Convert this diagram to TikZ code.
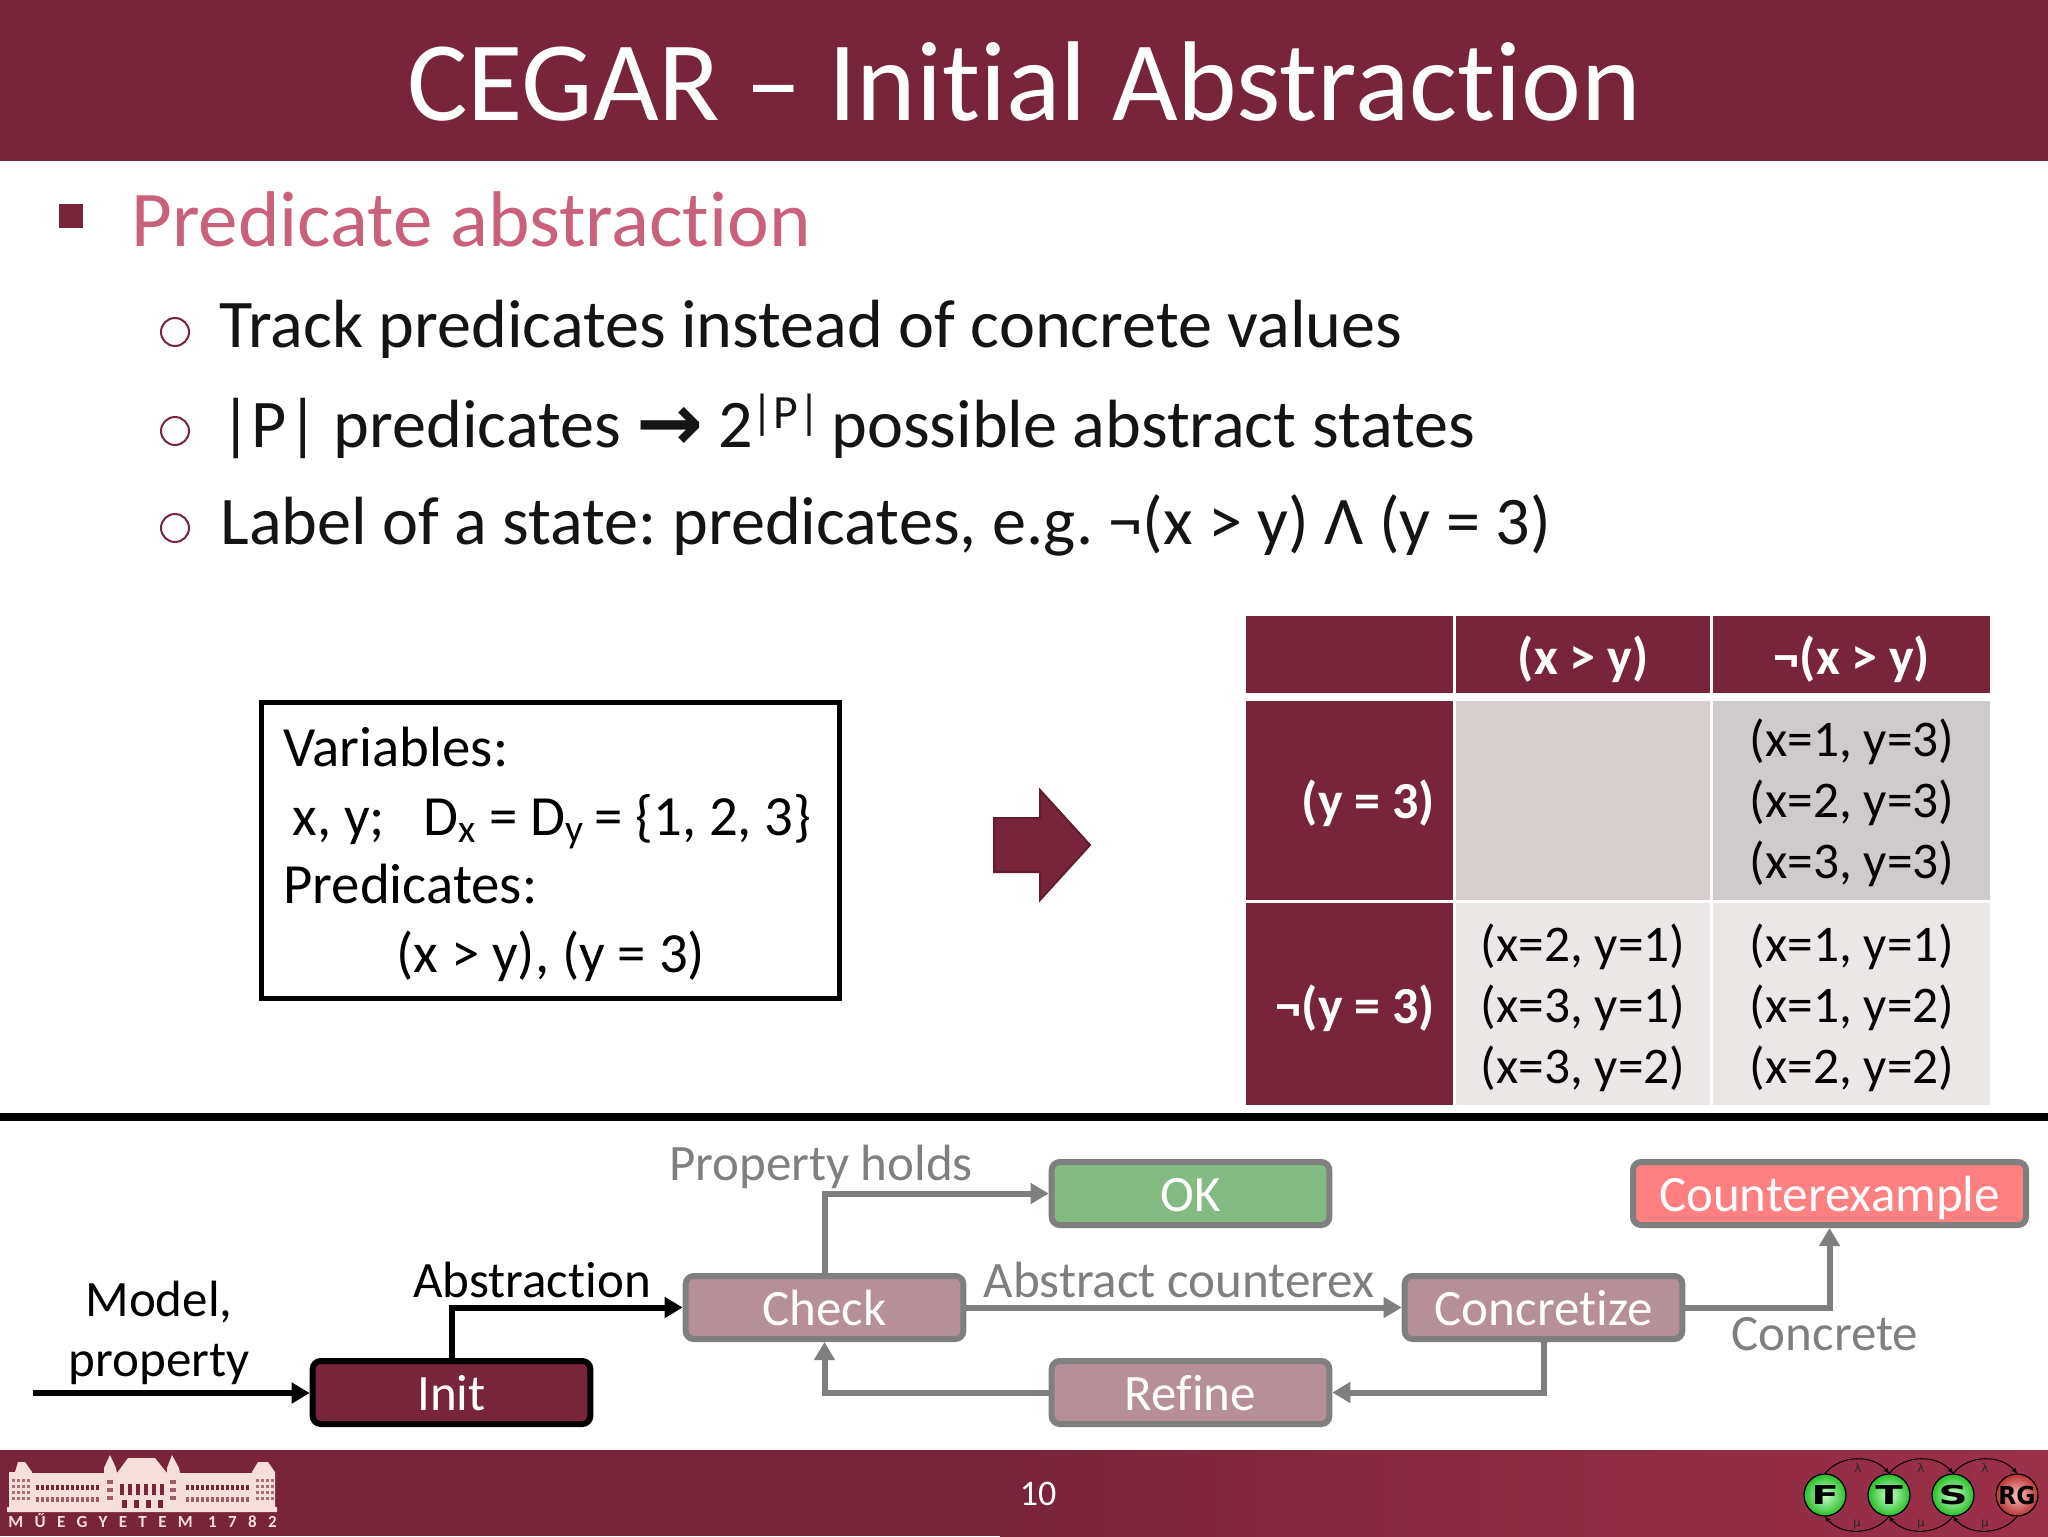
\documentclass[tikz,border=0pt]{standalone}
\usepackage{fontspec}
\setmainfont[Ligatures=CommonOff]{Carlito}
\newfontfamily\dejavu{DejaVu Sans}
\usetikzlibrary{arrows.meta,shapes.geometric}
\definecolor{wine}{HTML}{78243A}
\definecolor{winer}{HTML}{9B3049}
\definecolor{rosehead}{HTML}{C9607C}
\definecolor{flowgray}{HTML}{7F7F7F}
\definecolor{checkfill}{HTML}{B68F98}
\definecolor{okfill}{HTML}{82BC82}
\definecolor{cexfill}{HTML}{FF8080}
\definecolor{celldark}{HTML}{D6CFCE}
\definecolor{celldarkb}{HTML}{CFCACB}
\definecolor{celllight}{HTML}{EBE7E6}
\definecolor{pale}{HTML}{F6DEDA}
\newcommand{\fs}[1]{\fontsize{#1}{#1}\selectfont}
\frenchspacing
\tikzset{
  flowbox/.style={rectangle,rounded corners=4pt,line width=3pt,draw=flowgray,fill=checkfill,text=white,
    minimum width=138.8pt,minimum height=31.5pt,inner sep=0pt,font=\fs{25.5},text height=19pt,text depth=1pt},
  flowedge/.style={draw=flowgray,line width=3pt,-{Triangle[length=9pt,width=10pt]}},
  blackedge/.style={draw=black,line width=3pt,-{Triangle[length=9pt,width=10pt]}},
  flowlabel/.style={text=flowgray,font=\fs{25.5},inner sep=0pt},
  blacklabel/.style={text=black,font=\fs{25.5},inner sep=0pt},
  bullettext/.style={anchor=base west,inner sep=0pt,font=\fs{34.1},text=black!92},
  hollow/.style={circle,draw=wine,line width=1pt,minimum size=14pt,inner sep=0pt},
  vartext/.style={anchor=base west,inner sep=0pt,font=\fs{28.4}},
  celltext/.style={inner sep=0pt,align=center,font=\fontsize{25.7}{30.5}\selectfont},
  headtext/.style={inner sep=0pt,text=white,font=\fs{26}\bfseries},
  fts/.style={circle,draw=black,line width=0.6pt,minimum size=21pt,inner sep=0pt,inner color=green!20!white,outer color=green!70!black!85!white},
  ftsred/.style={circle,draw=black,line width=0.6pt,minimum size=21pt,inner sep=0pt,inner color=red!25!white,outer color=red!65!black!80!white},
  ftsletter/.style={inner sep=0pt,font=\dejavu\bfseries\fs{13},text=black},
  ftsarc/.style={draw=black,line width=0.5pt,-{Stealth[length=3pt,width=2.5pt]}},
  ftsmark/.style={inner sep=0pt,font=\dejavu\fs{6},text=black!85}
}
\begin{document}
\begin{tikzpicture}[x=0.5pt,y=-0.5pt]
\useasboundingbox (0,0) rectangle (2048,1536);
\fill[white] (0,0) rectangle (2048,1536);
% bars
\fill[wine] (0,0) rectangle (2048,161);
\fill[wine] (0,1450) rectangle (1000,1536);
\shade[left color=wine,right color=winer] (1000,1450) rectangle (2048,1536);
\node[inner sep=0pt,anchor=base,text=white,font=\fs{56.7}] (title) at (1024,120) {CEGAR – Initial Abstraction};
% bullets
\fill[wine] (59,204) rectangle (83,228);
\node[anchor=base west,inner sep=0pt,text=rosehead,font=\fs{39.5}] (head) at (131,246) {Predicate abstraction};
\node[hollow] (b1) at (175,332) {};
\node[hollow] (b2) at (175,431) {};
\node[hollow] (b3) at (175,528) {};
\node[bullettext] (t1) at (219,347) {Track predicates instead of concrete values};
\node[bullettext] (t2) at (220,447) {|P| predicates {\dejavu\bfseries\fontsize{40}{40}\selectfont\raisebox{-1.5pt}{→}} 2\hspace{-1pt}\textsuperscript{|P|}\hspace{-2.5pt} possible abstract states};
\node[bullettext] (t3) at (220,544) {Label of a state: predicates, e.g. ¬(x > y) Λ (y = 3)};
% variables box
\draw[line width=2.5pt,draw=black] (261,702) rectangle (839,998);
\node[vartext] (v1) at (283,766) {Variables:};
\node[vartext] (v2) at (292,835) {x, y;\hspace{0.45em} D\textsubscript{x} = D\textsubscript{y}\hspace{-1.5pt} = \{1, 2, 3\}};
\node[vartext] (v3) at (283,903) {Predicates:};
\node[vartext] (v4) at (396,972) {(x > y), (y = 3)};
% big arrow
\path[fill=wine,draw=wine!80!black,line width=1pt] (994,818) -- (1040,818) -- (1040,790) -- (1090,845) -- (1040,900) -- (1040,872) -- (994,872) -- cycle;
% table
\fill[wine] (1246,616) rectangle (1453,693);
\fill[wine] (1456,616) rectangle (1710,693);
\fill[wine] (1713,616) rectangle (1990,693);
\fill[wine] (1246,701) rectangle (1453,900);
\fill[wine] (1246,903) rectangle (1453,1105);
\fill[celldark] (1456,701) rectangle (1710,900);
\fill[celldarkb] (1713,701) rectangle (1990,900);
\fill[celllight] (1456,903) rectangle (1710,1105);
\fill[celllight] (1713,903) rectangle (1990,1105);
\node[headtext] (h1) at (1583,659.5) {(x > y)};
\node[headtext] (h2) at (1852,659.5) {¬(x > y)};
\node[headtext,anchor=east] (r1) at (1435,803) {(y = 3)};
\node[headtext,anchor=east] (r2) at (1435,1008) {¬(y = 3)};
\node[celltext] (c12) at (1852,803) {(x=1, y=3)\\(x=2, y=3)\\(x=3, y=3)};
\node[celltext] (c21) at (1583,1008) {(x=2, y=1)\\(x=3, y=1)\\(x=3, y=2)};
\node[celltext] (c22) at (1852,1008) {(x=1, y=1)\\(x=1, y=2)\\(x=2, y=2)};
% separator
\fill[black] (0,1113) rectangle (2048,1121);
% flow nodes
\node[flowbox,draw=black,fill=wine] (init) at (451.5,1392.5) {Init};
\node[flowbox] (check) at (824.5,1307.5) {Check};
\node[flowbox] (conc) at (1543.5,1307.5) {Concretize};
\node[flowbox] (refine) at (1190.5,1392.5) {Refine};
\node[flowbox,fill=okfill] (ok) at (1190.5,1193.5) {OK};
\node[flowbox,fill=cexfill,minimum width=196.5pt] (cex) at (1829.5,1193.5) {Counterexample};
\coordinate (entry) at (33,1393);
\draw[blackedge] (entry) -- (init.west |- entry);
\draw[blackedge] (init.north) |- (check.west);
\draw[flowedge] (check.north) |- (ok.west);
\draw[flowedge] (check.east) -- (conc.west);
\draw[flowedge] (conc.east) -| (cex.south);
\draw[flowedge] (conc.south) |- (refine.east);
\draw[flowedge] (refine.west) -| (check.south);
\node[blacklabel] (l1) at (159,1302) {Model,};
\node[blacklabel] (l2) at (159,1364) {property};
\node[blacklabel] (l3) at (532,1280) {Abstraction};
\node[flowlabel] (l4) at (821,1167) {Property holds};
\node[flowlabel] (l5) at (1179,1280) {Abstract counterex};
\node[flowlabel] (l6) at (1825,1334) {Concrete};
% footer number
\node[inner sep=0pt,text=white,font=\fs{18}] (page) at (1038,1494) {10};
% building logo
\begin{scope}
\fill[pale] (7,1512) -- (7,1507) -- (9,1507) -- (9,1472) -- (15,1472) -- (18,1462) -- (25,1462) -- (32,1472) -- (32,1473) -- (104,1473) -- (104,1468) -- (110,1455) -- (116,1468) -- (117,1473) -- (128,1458) -- (155,1458) -- (167,1473) -- (167,1468) -- (172,1455) -- (179,1468) -- (180,1473) -- (252,1473) -- (252,1472) -- (258,1462) -- (268,1462) -- (275,1472) -- (275,1507) -- (277,1507) -- (277,1512) -- cycle;
\foreach \x in {36,41,...,98,186,191,...,248} {
  \fill[wine] (\x,1485) rectangle +(3,5);
  \fill[wine!70!pale] (\x,1497) rectangle +(3,5);
}
\foreach \x in {12,17,22,27,256,261,266,271} {
  \foreach \y in {1479,1485,1491,1497} {\fill[wine!60!pale] (\x,\y) rectangle +(3,3);}
}
\foreach \x in {120,128,136,144,152,160} {\fill[wine] (\x,1484) rectangle +(4,11);}
\foreach \x in {122,134,146,158} {\fill[wine] (\x,1500) rectangle +(5,8);}
\foreach \x in {107,170} {\foreach \y in {1480,1488,1496} {\fill[wine!70!pale] (\x,\y) rectangle +(6,4);}}
\end{scope}
\node[inner sep=0pt,anchor=base west,text=pale,font=\fs{8.5}\bfseries\addfontfeature{LetterSpace=67}] (muegy) at (8,1527) {MŰEGYETEM 1782};
% FTSRG logo
\node[fts] (f) at (1825,1495) {};
\node[fts] (t) at (1889,1495) {};
\node[fts] (s) at (1953,1495) {};
\node[ftsred] (rg) at (2017,1495) {};
\node[ftsletter] (fl) at (f.center) {\scalebox{1.55}[1]{F}};
\node[ftsletter] (tl) at (t.center) {\scalebox{1.55}[1]{T}};
\node[ftsletter] (sl) at (s.center) {\scalebox{1.55}[1]{S}};
\node[ftsletter] (rgl) at (rg.center) {\scalebox{0.9}[0.95]{RG}};
\draw[ftsarc] (f.north) to[bend left=50] (t.north);
\draw[ftsarc] (t.north) to[bend left=50] (s.north);
\draw[ftsarc] (s.north) to[bend left=50] (rg.north);
\draw[ftsarc] (t.south) to[bend left=50] (f.south);
\draw[ftsarc] (s.south) to[bend left=50] (t.south);
\draw[ftsarc] (rg.south) to[bend left=50] (s.south);
\node[ftsmark] (la1) at (1858,1468) {λ};
\node[ftsmark] (la2) at (1921,1468) {λ};
\node[ftsmark] (la3) at (1985,1468) {λ};
\node[ftsmark] (mu1) at (1857,1524) {µ};
\node[ftsmark] (mu2) at (1921,1524) {µ};
\node[ftsmark] (mu3) at (1985,1524) {µ};
\end{tikzpicture}
\end{document}
